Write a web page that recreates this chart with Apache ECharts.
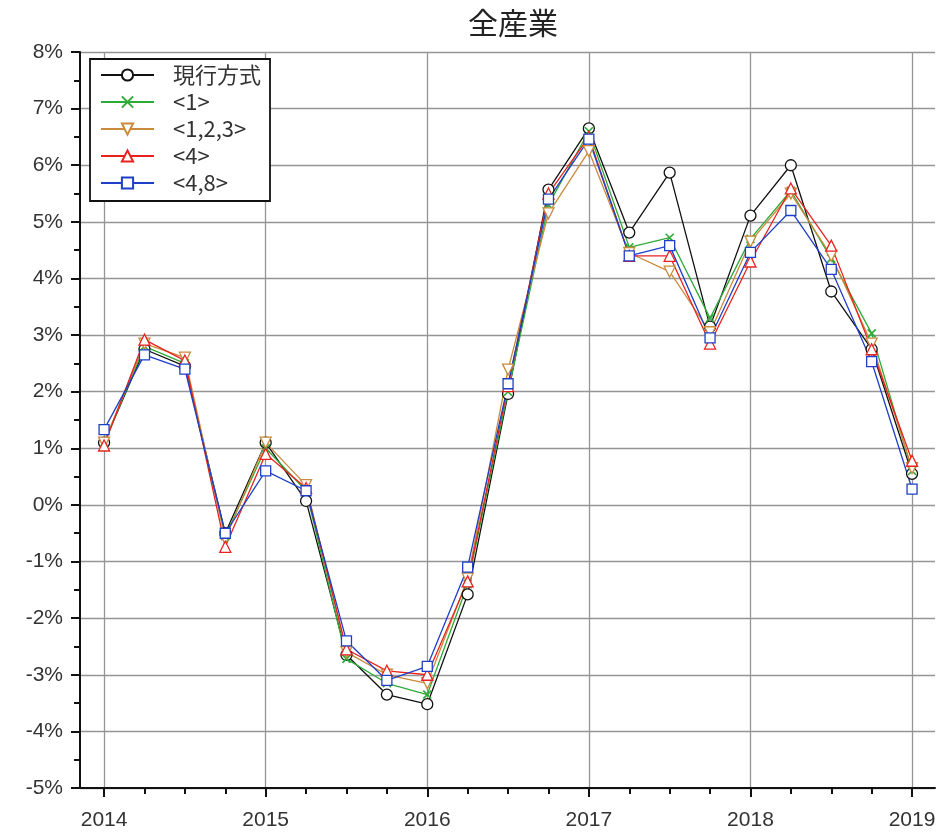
<!DOCTYPE html>
<html>
<head>
<meta charset="utf-8">
<script src="https://cdn.jsdelivr.net/npm/echarts@6/dist/echarts.min.js"></script>
<style>
  html, body { margin: 0; padding: 0; background: #fff; }
  #chart { width: 945px; height: 833px; }
</style>
</head>
<body>
<div id="chart"></div>
<script>
// Quarterly time points (year fractions), 2014Q1 .. 2019Q1
const quarters = [
  2014.00, 2014.25, 2014.50, 2014.75,
  2015.00, 2015.25, 2015.50, 2015.75,
  2016.00, 2016.25, 2016.50, 2016.75,
  2017.00, 2017.25, 2017.50, 2017.75,
  2018.00, 2018.25, 2018.50, 2018.75,
  2019.00
];
const yearTicks = [2014, 2015, 2016, 2017, 2018, 2019];
const quarterTicks = quarters;

// Growth rates (%) by method
const current = [1.1, 2.75, 2.45, -0.5, 1.1, 0.07, -2.65, -3.35, -3.52, -1.58, 1.96, 5.57, 6.65, 4.81, 5.87, 3.15, 5.11, 6.0, 3.77, 2.75, 0.55];
const m1      = [1.1, 2.8, 2.5, -0.55, 1.0, 0.25, -2.72, -3.15, -3.35, -1.4, 2.0, 5.3, 6.6, 4.55, 4.72, 3.3, 4.7, 5.55, 4.35, 3.03, 0.6];
const m123    = [1.1, 2.85, 2.6, -0.6, 1.1, 0.35, -2.6, -3.0, -3.15, -1.3, 2.39, 5.15, 6.25, 4.45, 4.12, 3.05, 4.65, 5.5, 4.4, 2.85, 0.65];
const m4      = [1.05, 2.92, 2.55, -0.74, 0.9, 0.3, -2.55, -2.93, -3.0, -1.35, 2.1, 5.5, 6.5, 4.4, 4.4, 2.85, 4.3, 5.59, 4.58, 2.75, 0.78];
const m48     = [1.33, 2.65, 2.4, -0.5, 0.6, 0.25, -2.4, -3.1, -2.85, -1.1, 2.14, 5.4, 6.46, 4.4, 4.58, 2.95, 4.46, 5.2, 4.16, 2.53, 0.28];

const seriesNames = ['現行方式', '<1>', '<1,2,3>', '<4>', '<4,8>'];

const pair = vals => quarters.map((q, i) => [q, vals[i]]);

const fontLatin = '"Liberation Sans", Arial, sans-serif';
const fontCJK = '"Noto Sans CJK JP", "Liberation Sans", sans-serif';

function lineSeries(name, vals, color, symbol, opts) {
  return Object.assign({
    name: name,
    type: 'line',
    xAxisIndex: 0,
    yAxisIndex: 0,
    data: pair(vals),
    symbol: symbol,
    symbolSize: 10,
    showAllSymbol: true,
    lineStyle: { color: color, width: 1.3 },
    itemStyle: { color: '#fff', borderColor: color, borderWidth: 1.3 },
    emphasis: { disabled: true },
    animation: false
  }, opts || {});
}

const chart = echarts.init(document.getElementById('chart'), null, { renderer: 'canvas' });

chart.setOption({
  backgroundColor: '#fff',
  animation: false,
  title: {
    text: '全産業',
    left: 508,
    textAlign: 'center',
    top: 3,
    textStyle: { fontFamily: fontCJK, fontSize: 30, fontWeight: 'normal', color: '#222' }
  },
  grid: { left: 80, right: 10, top: 52, bottom: 45, containLabel: false },
  legend: {
    orient: 'vertical',
    left: 90,
    top: 59,
    padding: [5, 9, 7, 10],
    itemWidth: 53,
    itemHeight: 14,
    itemGap: 5,
    borderColor: '#111',
    borderWidth: 1.8,
    backgroundColor: '#fff',
    textStyle: {
      fontFamily: fontCJK, fontSize: 22, lineHeight: 16, height: 16,
      color: '#333', padding: [0, 0, 0, 14]
    },
    data: seriesNames
  },
  xAxis: [
    {
      type: 'value',
      min: 2013.851,
      max: 2019.142,
      position: 'bottom',
      axisLine: { show: true, onZero: false, lineStyle: { color: '#111', width: 2 } },
      axisTick: { show: true, customValues: yearTicks, length: 9, lineStyle: { color: '#111', width: 2 } },
      axisLabel: {
        customValues: yearTicks,
        formatter: v => String(Math.round(v)),
        fontFamily: fontLatin, fontSize: 21, color: '#333', margin: 22
      },
      splitLine: { show: true, lineStyle: { color: '#959595', width: 1.3 } }
    },
    {
      type: 'value',
      min: 2013.851,
      max: 2019.142,
      position: 'bottom',
      axisLine: { show: false, onZero: false },
      axisTick: { show: true, customValues: quarterTicks, length: 6, lineStyle: { color: '#111', width: 2 } },
      axisLabel: { show: false },
      splitLine: { show: false }
    }
  ],
  yAxis: {
    type: 'value',
    min: -5,
    max: 8,
    interval: 1,
    axisLine: { show: true, onZero: false, lineStyle: { color: '#111', width: 2 } },
    axisTick: { show: true, length: 9, lineStyle: { color: '#111', width: 2 } },
    minorTick: { show: true, splitNumber: 2, length: 6, lineStyle: { color: '#111', width: 2 } },
    axisLabel: {
      formatter: v => v + '%',
      fontFamily: fontLatin, fontSize: 21, color: '#333', margin: 17
    },
    splitLine: { show: true, lineStyle: { color: '#959595', width: 1.3 } }
  },
  series: [
    lineSeries(seriesNames[0], current, '#111111', 'circle', { symbolSize: 11 }),
    lineSeries(seriesNames[1], m1, '#2eaa3a', 'path://M0,0L10,10M10,0L0,10', {
      symbolSize: 8,
      itemStyle: { color: '#2eaa3a', borderColor: '#2eaa3a', borderWidth: 1.6 }
    }),
    lineSeries(seriesNames[2], m123, '#c98a3c', 'triangle', { symbolSize: 11, symbolRotate: 180 }),
    lineSeries(seriesNames[3], m4, '#e8231f', 'triangle', { symbolSize: 11 }),
    lineSeries(seriesNames[4], m48, '#1f3fc8', 'rect', { symbolSize: 10 })
  ]
});
</script>
</body>
</html>
